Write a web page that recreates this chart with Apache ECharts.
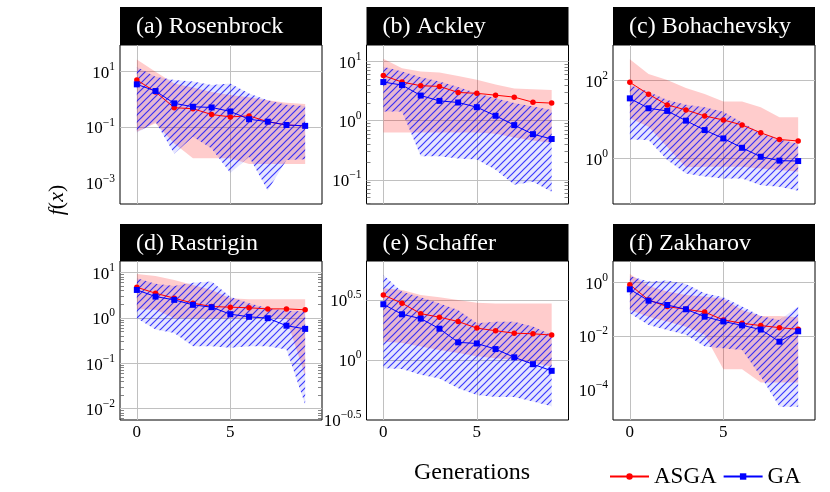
<!DOCTYPE html>
<html lang="en">
<head>
<meta charset="UTF-8">
<title>ASGA vs GA</title>
<style>
  html, body { margin: 0; padding: 0; background: #fff; }
  #main { width: 830px; height: 492px; }
</style>
</head>
<body>
<div id="main"></div>
<script src="https://cdn.jsdelivr.net/npm/echarts@6/dist/echarts.min.js"></script>
<script>
// generations on the x axis
const gens = [0, 1, 2, 3, 4, 5, 6, 7, 8, 9];
const xTicks = [0, 5];

const panelTitles = ['(a) Rosenbrock', '(b) Ackley', '(c) Bohachevsky', '(d) Rastrigin', '(e) Schaffer', '(f) Zakharov'];

// (a) Rosenbrock
const rosenbrockAsga   = [4.8, 1.8, 0.49, 0.45, 0.28, 0.23, 0.25, 0.155, 0.118, 0.11];
const rosenbrockAsgaLo = [0.068, 0.135, 0.026, 0.0076, 0.0076, 0.0076, 0.0048, 0.0048, 0.0048, 0.0048];
const rosenbrockAsgaHi = [26, 9.5, 3.6, 2.6, 1.8, 1.38, 1.15, 0.91, 0.74, 0.66];
const rosenbrockGa     = [3.35, 1.93, 0.70, 0.53, 0.50, 0.36, 0.19, 0.155, 0.118, 0.11];
const rosenbrockGaLo   = [0.063, 0.155, 0.011, 0.045, 0.017, 0.0023, 0.0087, 0.00054, 0.0066, 0.0071];
const rosenbrockGaHi   = [14, 6.3, 4.8, 4.2, 3.2, 3.6, 1.58, 0.91, 0.62, 0.56];

// (b) Ackley
const ackleyAsga   = [5.8, 4.5, 3.9, 3.8, 3.0, 2.9, 2.7, 2.5, 2.05, 1.98];
const ackleyAsgaLo = [0.63, 0.63, 0.63, 0.63, 0.63, 0.63, 0.6, 0.52, 0.46, 0.42];
const ackleyAsgaHi = [11.1, 7.7, 6.8, 6.5, 5.7, 4.9, 4.1, 3.5, 3.4, 3.3];
const ackleyGa     = [4.5, 4.0, 2.66, 2.16, 2.03, 1.69, 1.21, 0.84, 0.59, 0.49];
const ackleyGaLo   = [1.43, 1.43, 0.25, 0.25, 0.23, 0.22, 0.148, 0.082, 0.093, 0.063];
const ackleyGaHi   = [8.2, 6.8, 5.4, 4.6, 3.7, 2.9, 2.4, 1.98, 1.74, 1.51];

// (c) Bohachevsky
const bohachevskyAsga   = [90, 44.6, 23.8, 17.7, 12.4, 9.8, 7.3, 4.6, 3.1, 2.84];
const bohachevskyAsgaLo = [10.8, 6.6, 2.0, 0.6, 0.62, 0.62, 0.62, 0.56, 0.51, 0.46];
const bohachevskyAsgaHi = [350, 148, 104, 64, 45, 29, 29, 20.7, 11.5, 11.5];
const bohachevskyGa     = [35, 19.5, 16.7, 9.4, 5.4, 3.3, 1.9, 1.12, 0.89, 0.87];
const bohachevskyGaLo   = [3.1, 3.0, 0.92, 0.42, 0.35, 0.31, 0.31, 0.21, 0.19, 0.15];
const bohachevskyGaHi   = [77, 52, 32, 24, 20.7, 16, 8.4, 4.5, 3.1, 2.4];

// (d) Rastrigin
const rastriginAsga   = [4.7, 3.47, 2.7, 2.1, 1.77, 1.71, 1.66, 1.57, 1.57, 1.5];
const rastriginAsgaLo = [1.55, 1.5, 0.98, 0.98, 0.98, 0.98, 0.98, 0.98, 0.95, 0.052];
const rastriginAsgaHi = [9.2, 8.3, 6.8, 5.3, 4.1, 2.7, 2.56, 2.56, 2.56, 2.56];
const rastriginGa     = [4.1, 2.93, 2.48, 1.93, 1.71, 1.2, 1.05, 0.98, 0.67, 0.57];
const rastriginGaLo   = [0.98, 0.55, 0.46, 0.235, 0.235, 0.22, 0.235, 0.235, 0.2, 0.0124];
const rastriginGaHi   = [7.4, 5.6, 5.0, 5.9, 6.3, 2.9, 2.1, 1.63, 1.42, 1.38];

// (e) Schaffer
const schafferAsga   = [3.48, 2.97, 2.43, 2.27, 2.09, 1.84, 1.75, 1.67, 1.65, 1.61];
const schafferAsgaLo = [1.42, 1.38, 1.29, 1.21, 1.14, 1.07, 1.03, 1.0, 0.94, 0.88];
const schafferAsgaHi = [3.95, 3.83, 3.48, 3.33, 3.16, 3.0, 2.96, 2.96, 2.96, 2.96];
const schafferGa     = [2.91, 2.40, 2.21, 1.82, 1.40, 1.37, 1.23, 1.05, 0.92, 0.81];
const schafferGaLo   = [0.85, 0.84, 0.75, 0.70, 0.58, 0.51, 0.49, 0.49, 0.45, 0.41];
const schafferGaHi   = [5.1, 3.7, 3.33, 2.96, 2.61, 2.02, 2.08, 2.08, 1.9, 1.61];

// (f) Zakharov
const zakharovAsga   = [0.84, 0.224, 0.126, 0.1, 0.079, 0.04, 0.03, 0.0245, 0.0205, 0.0178];
const zakharovAsgaLo = [0.094, 0.053, 0.035, 0.022, 0.011, 0.00056, 0.00056, 0.00018, 0.00018, 0.00018];
const zakharovAsgaHi = [2.1, 0.75, 0.46, 0.345, 0.3, 0.25, 0.094, 0.056, 0.056, 0.05];
const zakharovGa     = [0.56, 0.21, 0.145, 0.1, 0.053, 0.035, 0.025, 0.0174, 0.0061, 0.015];
const zakharovGaLo   = [0.071, 0.026, 0.0168, 0.011, 0.004, 0.0035, 0.003, 0.0003, 0.0000224, 0.0000224];
const zakharovGaHi   = [1.78, 1.09, 1.19, 0.89, 0.4, 0.28, 0.126, 0.056, 0.04, 0.126];

// y tick values per panel
const rosenbrockTicks  = [1e-3, 1e-1, 10];
const ackleyTicks      = [0.1, 1, 10];
const bohachevskyTicks = [1, 100];
const rastriginTicks   = [0.01, 0.1, 1, 10];
const schafferTicks    = [Math.pow(10, -0.5), 1, Math.pow(10, 0.5)];
const zakharovTicks    = [1e-4, 1e-2, 1];

const panels = [
  { asga: rosenbrockAsga, asgaLo: rosenbrockAsgaLo, asgaHi: rosenbrockAsgaHi, ga: rosenbrockGa, gaLo: rosenbrockGaLo, gaHi: rosenbrockGaHi, ticks: rosenbrockTicks, range: [-3.75, 1.93], minor: false },
  { asga: ackleyAsga, asgaLo: ackleyAsgaLo, asgaHi: ackleyAsgaHi, ga: ackleyGa, gaLo: ackleyGaLo, gaHi: ackleyGaHi, ticks: ackleyTicks, range: [-1.41, 1.28], minor: true },
  { asga: bohachevskyAsga, asgaLo: bohachevskyAsgaLo, asgaHi: bohachevskyAsgaHi, ga: bohachevskyGa, gaLo: bohachevskyGaLo, gaHi: bohachevskyGaHi, ticks: bohachevskyTicks, range: [-1.16, 2.91], minor: false },
  { asga: rastriginAsga, asgaLo: rastriginAsgaLo, asgaHi: rastriginAsgaHi, ga: rastriginGa, gaLo: rastriginGaLo, gaHi: rastriginGaHi, ticks: rastriginTicks, range: [-2.25, 1.25], minor: true },
  { asga: schafferAsga, asgaLo: schafferAsgaLo, asgaHi: schafferAsgaHi, ga: schafferGa, gaLo: schafferGaLo, gaHi: schafferGaHi, ticks: schafferTicks, range: [-0.502, 0.825], minor: false },
  { asga: zakharovAsga, asgaLo: zakharovAsgaLo, asgaHi: zakharovAsgaHi, ga: zakharovGa, gaLo: zakharovGaLo, gaHi: zakharovGaHi, ticks: zakharovTicks, range: [-5.15, 0.81], minor: false }
];

const SERIF = 'Liberation Serif';
const colLeft = [120, 366.5, 613];
const rowTop = [45, 261];
const titleTop = [7, 224];
const plotW = 202, plotH = 159;

// blue "north east lines" pattern
const hatch = (function () {
  const s = 7;
  const c = document.createElement('canvas');
  c.width = s; c.height = s;
  const g = c.getContext('2d');
  g.fillStyle = 'rgba(0,0,255,0.10)';
  g.fillRect(0, 0, s, s);
  g.strokeStyle = 'rgba(0,0,255,0.75)';
  g.lineWidth = 1.2;
  g.beginPath();
  g.moveTo(-1, s + 1); g.lineTo(s + 1, -1);
  g.moveTo(-1, 1); g.lineTo(1, -1);
  g.moveTo(s - 1, s + 1); g.lineTo(s + 1, s - 1);
  g.stroke();
  return c;
})();

function expLabel(v) {
  const e = Math.round(Math.log10(v) * 10) / 10;
  return '{b|10}{s|' + (e < 0 ? '\u2212' + (-e) : e) + '}';
}

function minorValues(range) {
  const out = [];
  for (let d = Math.floor(range[0]); d <= Math.ceil(range[1]); d++) {
    for (let k = 2; k <= 9; k++) {
      const v = k * Math.pow(10, d);
      const l = Math.log10(v);
      if (l > range[0] && l < range[1]) out.push(v);
    }
  }
  return out;
}

const grids = [], xAxes = [], yAxes = [], series = [], graphics = [];

panels.forEach(function (p, i) {
  const row = Math.floor(i / 3), col = i % 3;
  const ymin = Math.pow(10, p.range[0]), ymax = Math.pow(10, p.range[1]);
  grids.push({ left: colLeft[col], top: rowTop[row], width: plotW, height: plotH,
    show: true, borderColor: '#000', borderWidth: 1, backgroundColor: 'transparent' });

  xAxes.push({ type: 'value', gridIndex: i, min: -0.9, max: 9.9,
    axisLine: { show: false }, axisTick: { show: false }, splitLine: { show: false },
    axisLabel: { show: row === 1, customValues: xTicks, margin: 4, fontFamily: SERIF, fontSize: 17, color: '#000' } });

  const yMain = yAxes.length;
  yAxes.push({ type: 'log', logBase: 10, gridIndex: i, min: ymin, max: ymax,
    axisLine: { show: false }, axisTick: { show: false }, splitLine: { show: false },
    axisLabel: { customValues: p.ticks, formatter: expLabel, margin: 5, color: '#000',
      rich: {
        b: { fontFamily: SERIF, fontSize: 17, lineHeight: 21, verticalAlign: 'bottom', color: '#000' },
        s: { fontFamily: SERIF, fontSize: 11.5, lineHeight: 21, verticalAlign: 'top', color: '#000' }
      } } });

  if (p.minor) {
    ['left', 'right'].forEach(function (pos) {
      yAxes.push({ type: 'log', logBase: 10, gridIndex: i, min: ymin, max: ymax, position: pos,
        axisLine: { show: false }, splitLine: { show: false }, axisLabel: { show: false },
        axisTick: { show: true, inside: true, length: 4, customValues: minorValues(p.range),
          lineStyle: { color: '#666', width: 0.8 } } });
    });
  }

  // grid lines at the tick values
  const gridLines = xTicks.map(function (v) { return { xAxis: v }; })
    .concat(p.ticks.filter(function (v) {
      const l = Math.log10(v);
      return l > p.range[0] + 0.01 && l < p.range[1] - 0.01;
    }).map(function (v) { return { yAxis: v }; }));

  series.push({ type: 'line', xAxisIndex: i, yAxisIndex: yMain, data: [], silent: true,
    markLine: { silent: true, symbol: 'none', z: 1, label: { show: false }, animation: false,
      lineStyle: { color: '#c0c0c0', type: 'solid', width: 1 }, data: gridLines } });

  function band(lo, hi, fill) {
    return {
      type: 'custom', xAxisIndex: i, yAxisIndex: yMain, z: 2, silent: true,
      data: gens.map(function (g, k) { return [g, lo[k], hi[k]]; }),
      encode: { x: 0, y: [1, 2] },
      renderItem: function (params, api) {
        if (params.dataIndex !== 0) return null;
        const pts = [];
        for (let k = 0; k < gens.length; k++) pts.push(api.coord([gens[k], hi[k]]));
        for (let k = gens.length - 1; k >= 0; k--) pts.push(api.coord([gens[k], lo[k]]));
        return { type: 'polygon', shape: { points: pts }, style: { fill: fill } };
      }
    };
  }
  series.push(band(p.asgaLo, p.asgaHi, 'rgba(255,0,0,0.2)'));
  series.push(band(p.gaLo, p.gaHi, { image: hatch, repeat: 'repeat' }));

  series.push({ type: 'line', name: 'ASGA', xAxisIndex: i, yAxisIndex: yMain, z: 3,
    data: gens.map(function (g, k) { return [g, p.asga[k]]; }),
    symbol: 'circle', symbolSize: 5.5, lineStyle: { color: '#ff0000', width: 1 }, itemStyle: { color: '#ff0000' } });
  series.push({ type: 'line', name: 'GA', xAxisIndex: i, yAxisIndex: yMain, z: 3,
    data: gens.map(function (g, k) { return [g, p.ga[k]]; }),
    symbol: 'rect', symbolSize: 6, lineStyle: { color: '#0000ff', width: 1 }, itemStyle: { color: '#0000ff' } });

  // black title bar
  graphics.push({ type: 'rect', left: colLeft[col], top: titleTop[row],
    shape: { width: plotW, height: rowTop[row] - titleTop[row] }, style: { fill: '#000' } });
  graphics.push({ type: 'text', x: colLeft[col] + 16, y: (titleTop[row] + rowTop[row]) / 2 + 1,
    style: { text: panelTitles[i], fill: '#fff', fontFamily: SERIF, fontSize: 24, verticalAlign: 'middle' } });
});

graphics.push({ type: 'text', x: 57, y: 200, rotation: Math.PI / 2,
  style: { text: '{i|f}({i|x})', fill: '#000', fontFamily: SERIF, fontSize: 22, align: 'center', verticalAlign: 'middle',
    rich: { i: { fontStyle: 'italic', fontFamily: SERIF, fontSize: 22 } } } });
graphics.push({ type: 'text', x: 472, y: 473,
  style: { text: 'Generations', fill: '#000', fontFamily: SERIF, fontSize: 24, align: 'center', verticalAlign: 'middle' } });

const chart = echarts.init(document.getElementById('main'));
chart.setOption({
  animation: false,
  backgroundColor: '#fff',
  grid: grids,
  xAxis: xAxes,
  yAxis: yAxes,
  legend: { data: ['ASGA', 'GA'], left: 604, top: 460, itemWidth: 39, itemHeight: 8, itemGap: 6,
    textStyle: { fontFamily: SERIF, fontSize: 23, color: '#000' } },
  graphic: graphics,
  series: series
});
</script>
</body>
</html>
